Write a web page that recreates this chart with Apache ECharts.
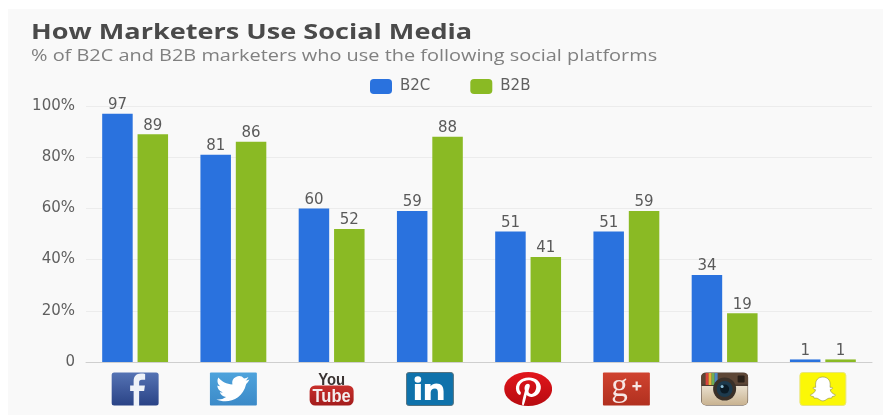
<!DOCTYPE html>
<html>
<head>
<meta charset="utf-8">
<style>html,body{margin:0;padding:0;background:#fff}#c{width:883px;height:415px}</style>
<script src="https://cdn.jsdelivr.net/npm/echarts@6/dist/echarts.min.js"></script>
</head>
<body>
<div id="c"></div>
<script>
const titleText = 'How Marketers Use Social Media';
const subtitleText = '% of B2C and B2B marketers who use the following social platforms';
const categories = ['Facebook', 'Twitter', 'YouTube', 'LinkedIn', 'Pinterest', 'GooglePlus', 'Instagram', 'Snapchat'];
const b2c = [97, 81, 60, 59, 51, 51, 34, 1];
const b2b = [89, 86, 52, 88, 41, 59, 19, 1];

// Platform logos, each a small inline SVG on a 48x34 canvas
const wrap = (body, defs) => 'data:image/svg+xml;charset=utf-8,' + encodeURIComponent(
  '<svg xmlns="http://www.w3.org/2000/svg" width="48" height="34" viewBox="0 0 48 34"><defs>' + (defs || '') + '</defs>' + body + '</svg>');
const grad = (id, a, b) => '<linearGradient id="' + id + '" x1="0" y1="0" x2="0" y2="1"><stop offset="0" stop-color="' + a + '"/><stop offset="1" stop-color="' + b + '"/></linearGradient>';

const logos = {
  Facebook: wrap('<rect x="0.5" y="0.5" width="47" height="33" rx="2.5" fill="url(#g)"/>' +
    '<path d="M28 34V19h5l.8-5.6H28v-3c0-1.700.7-2.700 2.800-2.700h3.200V1.900C33 1.700 31.500 1.600 29.800 1.600c-4.400 0-7.300 2.700-7.300 7.400v4.400H19V19h3.500v15z" fill="#eef2f8"/>',
    grad('g', '#5573b4', '#2a4386')),
  Twitter: wrap('<rect x="0.5" y="0.5" width="47" height="33" rx="1" fill="url(#g)"/>' +
    '<path d="M40 7.500c-1.300.6-2.700 1-4 1.100 1.400-.9 2.500-2.200 3-3.700-1.300.8-2.800 1.300-4.300 1.600A6.800 6.800 0 0 0 23 12.500C17.300 12.200 12.400 9.500 9 5.500c-1.700 3-.9 6.800 2 8.800-1.100 0-2.100-.3-3-.8 0 3.200 2.200 6 5.400 6.700-1 .3-2 .3-3 .1.900 2.700 3.400 4.600 6.300 4.700A13.600 13.600 0 0 1 7 27.500c10.500 4.600 26 1 29.800-15.500 1.300-1 2.400-2.900 3.200-4.500z" fill="#fff"/>',
    grad('g', '#4ea3dc', '#3c8ac8')),
  YouTube: wrap('<g transform="translate(24 12.500) scale(0.9 1)"><text text-anchor="middle" font-family="Liberation Sans" font-weight="700" font-size="16.500" fill="#3a3332">You</text></g>' +
    '<rect x="2" y="13.500" width="44" height="20" rx="5.500" fill="url(#g)"/>' +
    '<g transform="translate(24 29.500) scale(0.92 1)"><text text-anchor="middle" font-family="Liberation Sans" font-weight="700" font-size="18" fill="#f4eeee">Tube</text></g>',
    grad('g', '#c8302c', '#a31c1c')),
  LinkedIn: wrap('<rect x="0.500" y="0.500" width="47" height="33" rx="2.500" fill="#0f72ab" stroke="#55727f" stroke-width="1"/>' +
    '<rect x="9" y="12" width="6" height="16" fill="#fff"/><circle cx="12" cy="7.500" r="3.300" fill="#fff"/>' +
    '<path d="M19 12h5.700v2.300C26 12.700 28 11.600 30.500 11.600c5 0 7.200 3 7.200 7.900V28H32v-7.800c0-2.500-.9-3.800-3-3.800-2.200 0-4.200 1.400-4.200 4V28H19z" fill="#fff"/>'),
  Pinterest: wrap('<ellipse cx="24" cy="17" rx="24" ry="17" fill="url(#g)"/>' +
    '<path d="M19.500 33.500c1.200-3 2.400-7.800 3-10.800 1 1.500 3 2.400 5.400 2.200 5.600-.4 9.100-4.800 8.800-10.300C36.400 9 31 5.200 24.500 5.400 16.500 5.700 11.600 10.700 11.800 16.400c.1 3 1.700 5.900 4 6.700.7.200 1.200-2.500.8-3-1-1.100-1.600-2.500-1.500-4.300.2-4.300 4-7.300 8.900-7.500 4.600-.1 7.900 2 8.100 6.100.1 3.900-2.300 7.400-5 7.500-1.700.1-3-1.300-2.700-2.800.4-1.900 1.300-4 1.300-5.300 0-3-3.700-2.700-4.900.2-.6 1.500-.4 3.200 0 4.500-.8 3.700-2.500 8.900-2.800 12.300-.1 1 .1 2.500.5 2.700z" fill="#fff"/>',
    grad('g', '#e2161c', '#b70b10')),
  GooglePlus: wrap('<rect x="0.500" y="0.500" width="47" height="33" rx="1" fill="url(#g)"/>' +
    '<text x="17" y="24" text-anchor="middle" font-family="Liberation Serif" font-size="33" fill="#f7e6e3">g</text>' +
    '<path d="M30 13h3.200v-3.400h2.200V13H39v2.200h-3.600v3.400h-2.200v-3.400H30z" fill="#f7e6e3"/>',
    grad('g', '#d0432f', '#b1301f')),
  Instagram: wrap('<rect x="0.500" y="0.500" width="47" height="33" rx="5" fill="#4a3a30"/>' +
    '<path d="M5.500 1h38a4 4 0 0 1 4 4v7.500H.5V5a4 4 0 0 1 4-4z" fill="#5d4636"/>' +
    '<path d="M1 14h14.500a10 10 0 0 0 17 0H47v15a4 4 0 0 1-4 4H5a4 4 0 0 1-4-4z" fill="url(#g)"/>' +
    '<rect x="5" y="1" width="3" height="12" fill="#d8433c"/><rect x="8" y="1" width="3" height="12" fill="#e5b43a"/><rect x="11" y="1" width="3" height="12" fill="#6fae55"/><rect x="14" y="1" width="3" height="12" fill="#4b86c4"/>' +
    '<circle cx="24" cy="17" r="11.500" fill="#3a3028"/><circle cx="24" cy="17" r="8" fill="#1d3a4d"/><circle cx="24" cy="17" r="4.500" fill="#0b1a24"/><circle cx="21.500" cy="14.500" r="1.500" fill="#8fc0d8"/>' +
    '<rect x="37" y="3.500" width="7" height="7" rx="1" fill="#2a2019"/>',
    grad('g', '#e9dfcd', '#c9b391')),
  Snapchat: wrap('<rect x="1" y="0.500" width="46" height="33" rx="3" fill="#fbf707" stroke="#e9e67a" stroke-width="1"/>' +
    '<path d="M24 5c4.800 0 7.300 3.400 7.300 7.300l-.1 3c.6.300 1.400-.2 2.100.1.700.4.500 1.200-.3 1.600l-1.700.8c.6 2.400 2.700 4.200 5 4.800.7.300.3 1.100-1 1.500l-2.100.6-.5 1.500c-1.700-.2-3.200-.1-4.500.8-1.300.9-2.500 1.900-4.200 1.900s-2.900-1-4.200-1.900c-1.300-.9-2.800-1-4.500-.8l-.5-1.500-2.100-.6c-1.300-.4-1.700-1.200-1-1.500 2.300-.6 4.400-2.400 5-4.800l-1.700-.8c-.8-.4-1-1.200-.3-1.600.7-.3 1.500.2 2.100-.1l-.1-3C16.700 8.400 19.200 5 24 5z" fill="#fff" stroke="#8a8a4a" stroke-width="0.600"/>')
};

const labelFont = { fontFamily: 'DejaVu Sans', fontSize: 15 };

const valueLabel = Object.assign({
  show: true, position: 'top', distance: 1, color: '#5a5a5a'
}, labelFont);

const rich = {};
categories.forEach(name => {
  rich[name] = { width: 48, height: 34, backgroundColor: { image: logos[name] } };
});

const chart = echarts.init(document.getElementById('c'), null, { renderer: 'canvas' });
chart.setOption({
  animation: false,
  backgroundColor: '#fff',
  // Panel behind the chart, plus the headline pair set in a widened Open Sans
  graphic: [
    { type: 'rect', z: -10, silent: true,
      shape: { x: 8, y: 9, width: 875, height: 406 }, style: { fill: '#f9f9f9' } },
    { type: 'text', x: 31, y: 22, scaleX: 1.26, silent: true,
      style: { text: titleText, fontFamily: 'Open Sans', fontWeight: 700, fontSize: 21.5, fill: '#4a4a4a' } },
    { type: 'text', x: 31, y: 49, scaleX: 1.285, silent: true,
      style: { text: subtitleText, fontFamily: 'Open Sans', fontSize: 15.5, fill: '#808080' } }
  ],
  legend: {
    left: 370, top: 79, itemWidth: 22, itemHeight: 15, itemGap: 40, padding: 0,
    icon: 'roundRect',
    textStyle: Object.assign({ color: '#5f5f5f', padding: [3, 0, 0, 3] }, labelFont),
    data: ['B2C', 'B2B']
  },
  grid: { left: 86, right: 11, top: 106, bottom: 53 },
  xAxis: {
    type: 'category', data: categories,
    axisTick: { show: false },
    axisLine: { lineStyle: { color: '#cfcfcf', width: 1 } },
    axisLabel: { margin: 10, interval: 0, formatter: name => '{' + name + '|}', rich: rich }
  },
  yAxis: {
    type: 'value', min: 0, max: 100, interval: 20,
    axisLine: { show: false }, axisTick: { show: false },
    splitLine: { lineStyle: { color: '#ececec', width: 1 } },
    axisLabel: Object.assign({
      margin: 11, padding: [2, 0, 0, 0], formatter: v => v === 0 ? '0' : v + '%', color: '#5f5f5f'
    }, labelFont)
  },
  series: [
    { name: 'B2C', type: 'bar', data: b2c, barWidth: 30.5, barGap: '16%',
      itemStyle: { color: '#2a72de' }, label: valueLabel },
    { name: 'B2B', type: 'bar', data: b2b, barWidth: 30.5,
      itemStyle: { color: '#8aba24' }, label: valueLabel }
  ]
});
</script>
</body>
</html>
